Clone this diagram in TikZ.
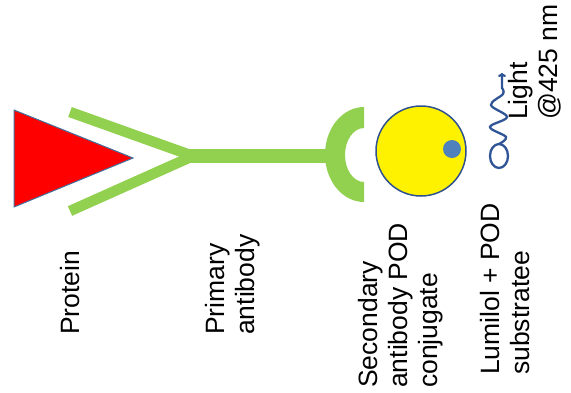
\documentclass[tikz,border=0pt]{standalone}
\usepackage{fontspec}
\setmainfont{Liberation Sans}
\usetikzlibrary{arrows.meta}
\definecolor{abgreen}{RGB}{146,208,80}
\definecolor{edgeblue}{RGB}{65,113,156}
\definecolor{rimblue}{RGB}{47,82,143}
\definecolor{dotblue}{RGB}{79,129,189}
\definecolor{waveblue}{RGB}{47,85,151}
\tikzset{
  label/.style={rotate=90, anchor=north west, inner sep=0pt, align=left,
    font=\fontsize{26.5}{30}\selectfont},
  arm/.style={abgreen, line width=10.5pt},
}
\begin{document}
\begin{tikzpicture}[x=1pt,y=-1pt]
\useasboundingbox (0,0) rectangle (571,392);
% protein
\draw[fill=red, draw=edgeblue, line width=1pt] (14,110) -- (14,207) -- (133,158) -- cycle;
% primary antibody: two arms and the stem
\draw[arm] (70,112) -- (193,156);
\draw[arm] (70,211) -- (193,156);
\draw[abgreen, line width=14pt] (188,155.5) -- (330,155.5);
% secondary antibody binding cup
\fill[abgreen] (364,107) arc[start angle=270, end angle=90, x radius=39, y radius=47.5]
  -- (364,182) arc[start angle=90, end angle=270, x radius=19, y radius=27] -- cycle;
% POD conjugate
\draw[fill=yellow, draw=rimblue, line width=1.5pt] (421,151) circle[radius=45];
\fill[dotblue] (452,149) circle[radius=9];
% emitted light
\draw[waveblue, line width=2.3pt] (499,156) ellipse[x radius=9, y radius=12];
\draw[waveblue, line width=2.3pt, -{To[length=4pt,width=8pt]}]
  plot[smooth, tension=0.6] coordinates {(499,144) (506,137) (490,127) (507,117) (491,105) (503,94) (502,88)} -- (502,73);
% labels
\node[label] (protein) at (60,335) {Protein};
\node[label] (primary) at (205,335) {Primary\\antibody};
\node[label] (secondary) at (358,388) {Secondary\\antibody POD\\conjugate};
\node[label] (substrate) at (480,375) {Lumilol + POD\\substratee};
\node[label] (light) at (508,120) {Light\\@425 nm};
\end{tikzpicture}
\end{document}
